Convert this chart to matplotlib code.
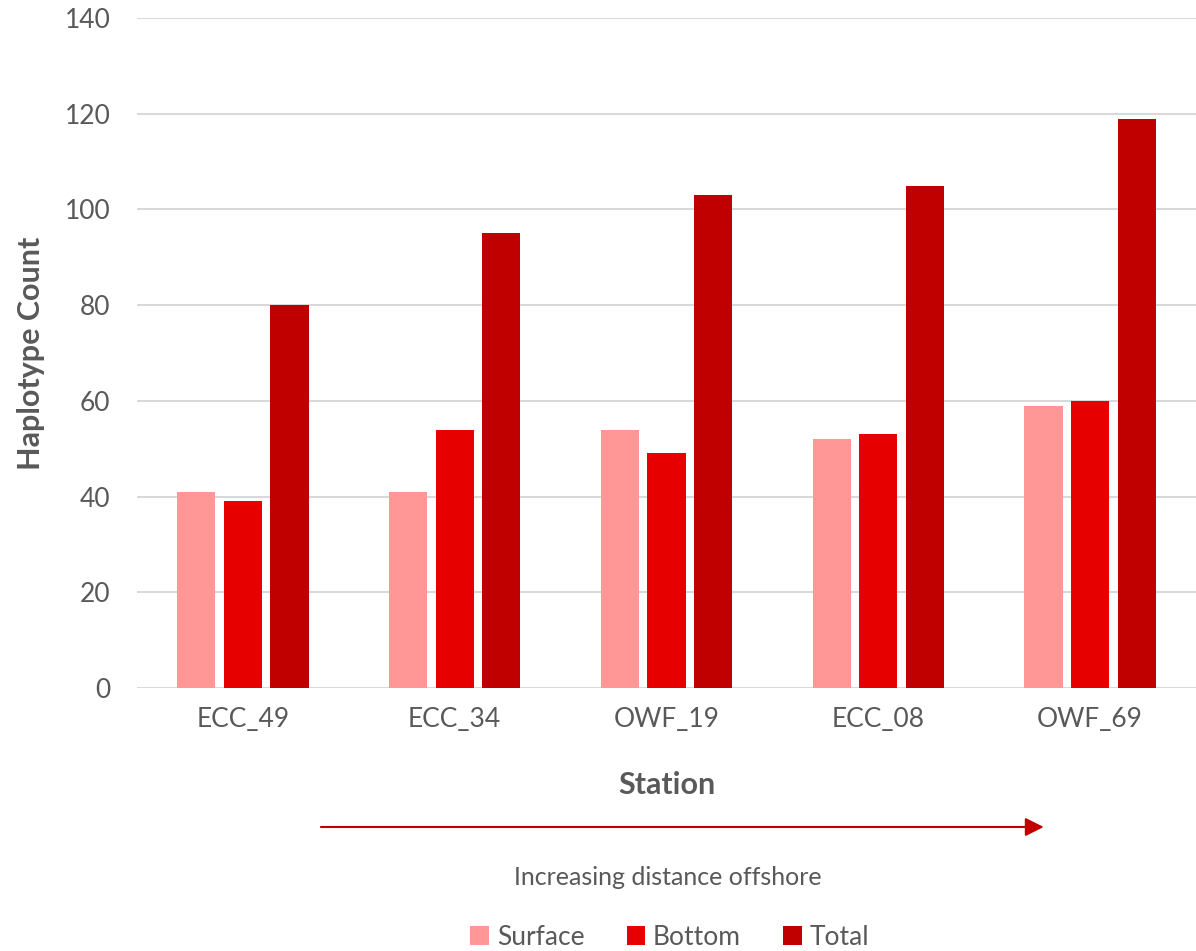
import numpy as np
import matplotlib.pyplot as plt
from matplotlib.patches import FancyArrowPatch

# haplotype counts per station
stations = ['ECC_49', 'ECC_34', 'OWF_19', 'ECC_08', 'OWF_69']
surface = [41, 41, 54, 52, 59]
bottom = [39, 54, 49, 53, 60]
total = [80, 95, 103, 105, 119]

series = [('Surface', surface, '#FF9797'),
          ('Bottom', bottom, '#E60000'),
          ('Total', total, '#C00000')]

plt.rcParams['font.family'] = ['Lato', 'DejaVu Sans']

fig = plt.figure(figsize=(11.96, 9.51), dpi=100)
ax = fig.add_axes([0.1145, 0.2766, 0.8855, 0.7044])

x = np.arange(len(stations))
width = 0.18
step = 0.22
for i, (name, vals, col) in enumerate(series):
    ax.bar(x + (i - 1) * step, vals, width, color=col, label=name, zorder=3)

ax.set_xlim(-0.5, len(stations) - 0.5)
ax.set_ylim(0, 140)
ax.set_yticks(range(0, 141, 20))
ax.set_xticks(x)
ax.set_xticklabels(stations)
ax.grid(axis='y', color='#D9D9D9', linewidth=1.5, zorder=0)
for s in ax.spines.values():
    s.set_visible(False)
ax.tick_params(length=0, labelsize=19, colors='#595959')
ax.tick_params(axis='x', pad=14)
ax.tick_params(axis='y', pad=19)

ax.set_ylabel('Haplotype Count', fontsize=22, fontweight='bold',
              color='#595959', labelpad=14)
ax.set_xlabel('Station', fontsize=22, fontweight='bold',
              color='#595959', labelpad=28)

# arrow showing the offshore gradient
arrow = FancyArrowPatch((0.266, 0.1304), (0.875, 0.1304),
                        transform=fig.transFigure, arrowstyle='-|>',
                        mutation_scale=28, color='#C00000', linewidth=1.5)
fig.add_artist(arrow)
fig.text(0.558, 0.0768, 'Increasing distance offshore', ha='center',
         va='center', fontsize=18, color='#595959')

fig.legend(loc='center', bbox_to_anchor=(0.56, 0.0147), ncol=3,
           frameon=False, fontsize=19, labelcolor='#595959',
           handlelength=0.7, handleheight=0.7, handletextpad=0.3,
           columnspacing=1.6)

fig.savefig('out.png', dpi=100)
